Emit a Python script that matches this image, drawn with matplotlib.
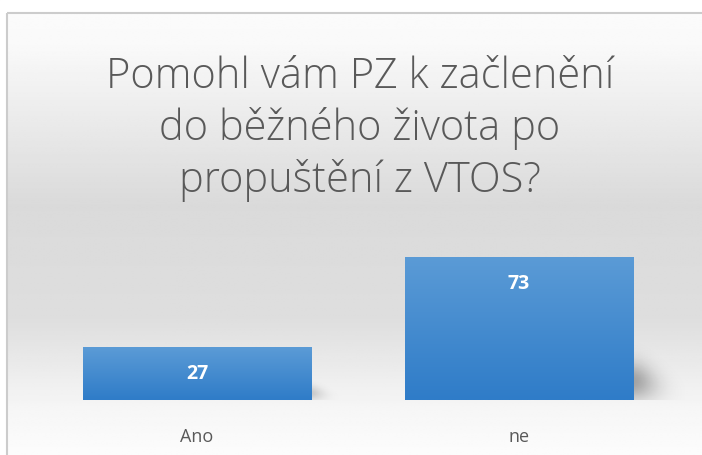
import numpy as np
import matplotlib
matplotlib.use("Agg")
import matplotlib.pyplot as plt
from matplotlib.patches import Rectangle

# chart data
categories = ["Ano", "ne"]
values = [27, 73]
title = "Pomohl vám PZ k začlenění\ndo běžného života po\npropuštění z VTOS?"

W, H = 702, 455
fig = plt.figure(figsize=(W / 100, H / 100), dpi=100)

# background gradient: whitish top, gray middle, white bottom
bg = fig.add_axes([0, 0, 1, 1])
bg.set_axis_off()
ys = np.linspace(0, 1, 256)
shade = np.interp(ys, [0, 0.1, 0.45, 0.7, 0.9, 1.0], [252, 249, 218, 222, 246, 252]) / 255
grad = np.repeat(shade[:, None], 2, axis=1)
bg.imshow(grad, cmap="gray", vmin=0, vmax=1, aspect="auto",
          extent=[0, W, H, 0], interpolation="bilinear")
# white margin above and left of the chart frame
bg.add_patch(Rectangle((0, 0), W, 12, color="white", zorder=3))
bg.add_patch(Rectangle((0, 0), 6, H, color="white", zorder=3))
bg.add_patch(Rectangle((6.5, 12.5), W, H, fill=False, edgecolor="#cccccc", lw=1.5, zorder=4))
bg.set_xlim(0, W)
bg.set_ylim(H, 0)

fig.text(360 / W, 1 - 129 / H, title, ha="center", va="center",
         fontsize=30, color="#595959", family="Open Sans", fontweight="light",
         linespacing=1.27)

# bar axes, placed so that y=0 sits at pixel 400 and 100 at pixel 204
left_px, right_px = 40, 690
ax = fig.add_axes([left_px / W, (H - 400) / H, (right_px - left_px) / W, (400 - 204) / H])
ax.patch.set_alpha(0)
spacing = 322
for s in ax.spines.values():
    s.set_visible(False)
ax.set_yticks([])
ax.set_xticks(range(len(categories)))
ax.set_xticklabels(categories, fontsize=13, color="#595959", family="Open Sans")
ax.tick_params(axis="x", length=0, pad=20)

x = np.arange(len(categories))
width = 0.71
bars = ax.bar(x, values, width=width, color="none", zorder=2)

bar_grad = np.linspace(0, 1, 128)[:, None]
cmap = matplotlib.colors.LinearSegmentedColormap.from_list("b", ["#5b9bd6", "#2f7cc8"])
for b, v in zip(bars, values):
    x0 = b.get_x()
    x1 = x0 + b.get_width()
    # blurred shadow at the lower right corner
    scale = (v / max(values)) ** 0.6
    sx, sy = 0.16 * scale, 0.42 * v
    gx = np.linspace(0, 1, 80)[None, :]
    gy = np.linspace(1, 0, 80)[:, None]
    edge = 1 - 0.55 * gy          # top edge slants back toward the bar
    a = np.exp(-((gx / (0.55 * edge)) ** 2)) * np.exp(-(((gy - 0.3) / 0.32) ** 2))
    rgba = np.zeros((80, 80, 4))
    rgba[..., 3] = 0.33 * scale * a
    ax.imshow(rgba, aspect="auto", extent=[x1 - 0.01, x1 + sx, 0, sy],
              interpolation="bilinear", zorder=1)
    im = ax.imshow(bar_grad, cmap=cmap, aspect="auto", extent=[x0, x1, 0, v],
                   interpolation="bilinear", zorder=2)
    im.set_clip_path(b)
    ax.annotate(str(v), (b.get_x() + b.get_width() / 2, v), xytext=(0, -19.5),
                textcoords="offset points", ha="center", va="center",
                color="white", fontsize=14, fontweight="bold", family="Open Sans", zorder=3)

ax.set_xlim(-(197 - left_px) / spacing, (right_px - 197) / spacing)
ax.set_ylim(0, 100)

fig.savefig("out.png", dpi=100)
